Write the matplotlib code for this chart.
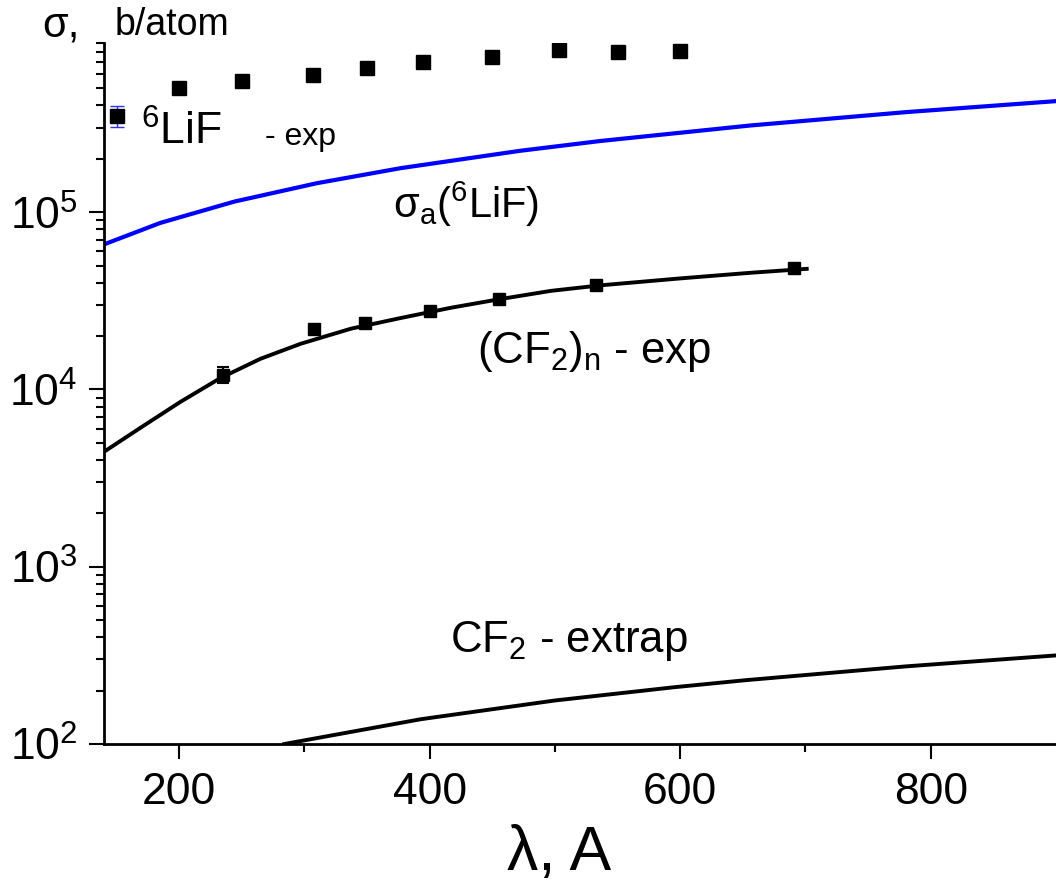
import matplotlib
matplotlib.use("Agg")
import matplotlib.pyplot as plt
from matplotlib.ticker import FixedLocator, LogLocator, LogFormatterMathtext, NullFormatter

plt.rcParams['font.family'] = ['Liberation Sans', 'DejaVu Sans']
plt.rcParams['mathtext.fontset'] = 'custom'
plt.rcParams['mathtext.rm'] = 'Liberation Sans'
plt.rcParams['mathtext.it'] = 'Liberation Sans:italic'
plt.rcParams['mathtext.default'] = 'regular'

# 6LiF measured points (wavelength in A, cross section in b/atom)
lif_lam = [150, 200, 250, 307, 350, 395, 450, 503, 550, 600]
lif_sig = [3.49e5, 5.0e5, 5.5e5, 5.94e5, 6.49e5, 7.0e5, 7.55e5, 8.22e5, 8.05e5, 8.15e5]
lif_err = [0.46e5, 0.35e5, 0.42e5, 0.43e5, 0.43e5, 0.41e5, 0.45e5, 0.6e5, 0.48e5, 0.55e5]

# sigma_a(6LiF) curve
abs_lam = [140, 185, 244, 310, 377, 472, 536, 656, 780, 900]
abs_sig = [6.58e4, 8.7e4, 1.147e5, 1.457e5, 1.772e5, 2.218e5, 2.519e5, 3.083e5, 3.666e5, 4.23e5]

# (CF2)n measured points
cf_lam = [235, 308, 348, 400, 455, 533, 691]
cf_sig = [1.21e4, 2.2e4, 2.37e4, 2.78e4, 3.24e4, 3.86e4, 4.83e4]
cf_err = [0.12e4, 0.1e4, 0.1e4, 0.12e4, 0.14e4, 0.16e4, 0.2e4]

# fitted curve through (CF2)n points
fit_lam = [140, 169, 201, 233, 265, 297, 337, 377, 417, 457, 497, 537, 600, 656, 701]
fit_sig = [4.45e3, 6.07e3, 8.51e3, 1.16e4, 1.49e4, 1.81e4, 2.2e4, 2.53e4, 2.89e4,
           3.24e4, 3.6e4, 3.87e4, 4.23e4, 4.55e4, 4.79e4]

# CF2 extrapolation
ext_lam = [284, 393, 500, 595, 652, 780, 900]
ext_sig = [100, 138, 176, 209, 229, 274, 316]

W, H = 1056, 886


def px(x, y):
    # pixel position (from top left) -> figure fraction
    return x / W, 1 - y / H


fig = plt.figure(figsize=(W / 100, H / 100), dpi=100)
ax = fig.add_axes([104 / W, 1 - 744 / H, 1 - 104 / W, (744 - 43) / H])

ax.plot(abs_lam, abs_sig, color='#0000ff', lw=3)
ax.plot(fit_lam, fit_sig, color='black', lw=2.8)
ax.plot(ext_lam, ext_sig, color='black', lw=2.8)
ax.errorbar(lif_lam, lif_sig, yerr=lif_err, fmt='s', color='black', ms=9.5,
            ecolor='#3030ff', elinewidth=1, capsize=5, capthick=1)
ax.errorbar(cf_lam, cf_sig, yerr=cf_err, fmt='s', color='black', ms=8.5,
            ecolor='black', elinewidth=1.5, capsize=4, capthick=1.5)

ax.set_yscale('log')
ax.set_xlim(140, 900)
ax.set_ylim(100, 9e5)

ax.xaxis.set_major_locator(FixedLocator([200, 400, 600, 800]))
ax.xaxis.set_minor_locator(FixedLocator([300, 500, 700]))
ax.yaxis.set_major_locator(LogLocator(base=10, numticks=10))
ax.yaxis.set_minor_locator(LogLocator(base=10, subs=range(2, 10), numticks=20))
ax.yaxis.set_major_formatter(LogFormatterMathtext())
ax.yaxis.set_minor_formatter(NullFormatter())

for s in ['top', 'right']:
    ax.spines[s].set_visible(False)
for s in ['left', 'bottom']:
    ax.spines[s].set_linewidth(2)

ax.tick_params(which='major', length=11, width=1.5, labelsize=32, pad=8)
ax.tick_params(which='minor', length=6, width=1.5)
ax.tick_params(axis='x', which='major', pad=9)

# axis titles
fig.text(*px(42, 36), 'σ,', fontsize=30, va='baseline')
fig.text(*px(115, 35), 'b/atom', fontsize=27, va='baseline')
fig.text(*px(559, 870), 'λ, A', fontsize=45, ha='center', va='baseline')

# curve labels
fig.text(*px(141, 145), r'$^{6}$LiF', fontsize=32, va='baseline')
fig.text(*px(265, 145), '- exp', fontsize=23, va='baseline')
fig.text(*px(393, 218), r'σ$_{a}$($^{6}$LiF)', fontsize=30, va='baseline')
fig.text(*px(477, 363), r'(CF$_{2}$)$_{n}$ - exp', fontsize=31.5, va='baseline')
fig.text(*px(450, 652), r'CF$_{2}$ - extrap', fontsize=31.5, va='baseline')

fig.savefig('out.png', dpi=100)
